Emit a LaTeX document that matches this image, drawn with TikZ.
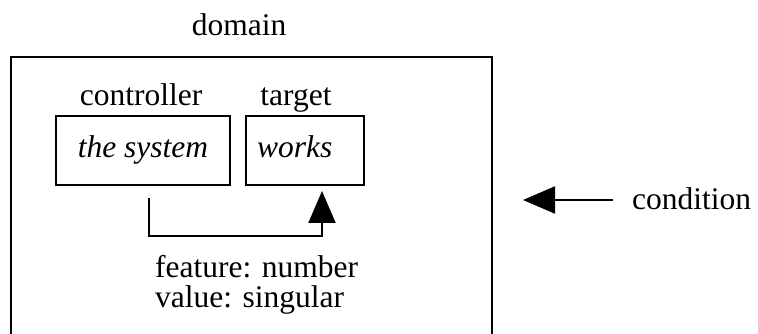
\documentclass[tikz,border=0pt]{standalone}
\usepackage{fontspec}
\setmainfont{Liberation Serif}
\usetikzlibrary{arrows.meta,calc}
\begin{document}
\begin{tikzpicture}[x=1pt,y=1pt,
  every node/.style={font=\fontsize{31.5}{36}\selectfont},
  lbl/.style={inner sep=0pt, anchor=base},
  wordbox/.style={draw, line width=2pt, minimum height=69pt, text height=22pt, text depth=7pt, font=\fontsize{31.5}{36}\selectfont\itshape},
  conn/.style={line width=2pt, -{Triangle[length=32pt,width=27pt]}}]
\useasboundingbox (0,0) rectangle (758,334);
\clip (0,0) rectangle (758,334);
\draw[line width=2pt] (11,277) rectangle (492,-20);
\node[lbl] (domain) at (239,298) {domain};
\node[wordbox, minimum width=174pt, inner xsep=0pt] (ctrl) at (143,183.5) {the system};
\node[wordbox, minimum width=118pt, inner xsep=11pt, text width=96pt, align=left] (tgt) at (305,183.5) {works};
\node[lbl] (ctrllbl) at (141,228) {controller};
\node[lbl] (tgtlbl) at (296,228) {target};
\node[lbl, anchor=base west] (feat) at (155,56) {feature: number};
\node[lbl, anchor=base west] (val) at (155,26) {value: singular};
\node[lbl, anchor=base west] (cond) at (632,124) {condition};
\draw[conn] ($(ctrl.south)+(6,-12)$) -- ++(0,-38) -| ($(tgt.south)+(17,-5)$);
\draw[conn] ($(cond.base west)+(-19,10)$) -- ($(cond.base west)+(-109,10)$);
\end{tikzpicture}
\end{document}
